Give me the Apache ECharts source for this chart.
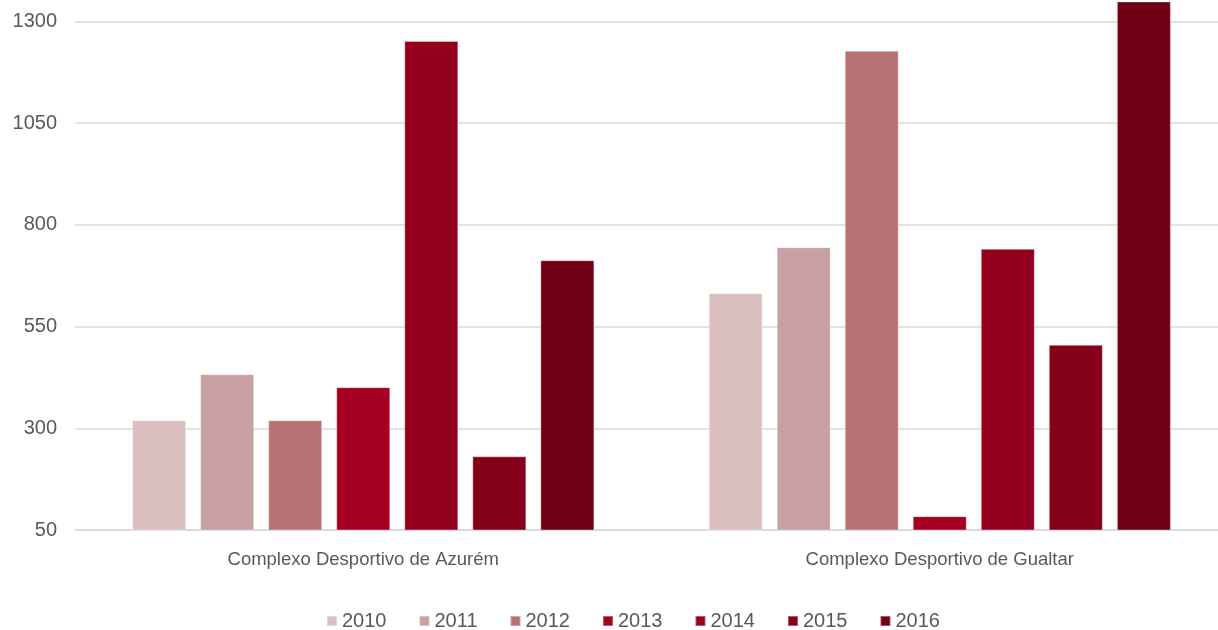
<!DOCTYPE html>
<html>
<head>
<meta charset="utf-8">
<script src="https://cdn.jsdelivr.net/npm/echarts@6/dist/echarts.min.js"></script>
<style>
  html, body { margin: 0; padding: 0; background: #ffffff; }
  #chart { width: 1218px; height: 630px; }
</style>
</head>
<body>
<div id="chart"></div>
<script>
// Venues (x-axis categories)
const categories = ['Complexo Desportivo de Azurém', 'Complexo Desportivo de Gualtar'];

// One series per year
const years = ['2010', '2011', '2012', '2013', '2014', '2015', '2016'];

// Values per year: [Azurém, Gualtar]
const v2010 = [320, 632];
const v2011 = [433, 745];
const v2012 = [320, 1228];
const v2013 = [401, 84];
const v2014 = [1252, 741];
const v2015 = [231, 505];
const v2016 = [713, 1349];

const yearValues = [v2010, v2011, v2012, v2013, v2014, v2015, v2016];

// Year palette, light rose to deep burgundy
const colors = ['#DBBFC1', '#C9A0A2', '#B87275', '#A50021', '#95001F', '#850019', '#720015'];

const font = 'Liberation Sans, Arial, sans-serif';

const series = years.map((y, i) => ({
  name: y,
  type: 'bar',
  data: yearValues[i],
  barWidth: 54,
  barGap: '26%',
  itemStyle: {
    color: colors[i],
    borderColor: 'rgba(255,255,255,0.35)',
    borderWidth: 1
  }
}));

const chart = echarts.init(document.getElementById('chart'), null, { renderer: 'canvas' });

chart.setOption({
  animation: false,
  backgroundColor: '#ffffff',
  color: colors,
  grid: {
    left: 75,
    top: -3,
    width: 1153,
    height: 533,
    outerBoundsMode: 'none',
    containLabel: false
  },
  legend: {
    data: years,
    left: 321,
    top: 606,
    icon: 'rect',
    itemWidth: 10,
    itemHeight: 10,
    itemGap: 32,
    textStyle: { color: '#595959', fontSize: 20, fontFamily: font, padding: [0, 0, 0, 0] }
  },
  xAxis: {
    type: 'category',
    data: categories,
    axisLine: { show: true, lineStyle: { color: '#D9D9D9', width: 1.5 } },
    axisTick: { show: false },
    axisLabel: { color: '#595959', fontSize: 18.5, fontFamily: font, margin: 20 }
  },
  yAxis: {
    type: 'value',
    min: 50,
    max: 1360,
    interval: 250,
    axisLine: { show: false },
    axisTick: { show: false },
    axisLabel: {
      color: '#595959',
      fontSize: 20,
      fontFamily: font,
      margin: 18,
      showMaxLabel: false,
      formatter: (v) => String(v)
    },
    splitLine: { show: true, lineStyle: { color: '#D9D9D9', width: 1.5 } }
  },
  series: series
});
</script>
</body>
</html>
